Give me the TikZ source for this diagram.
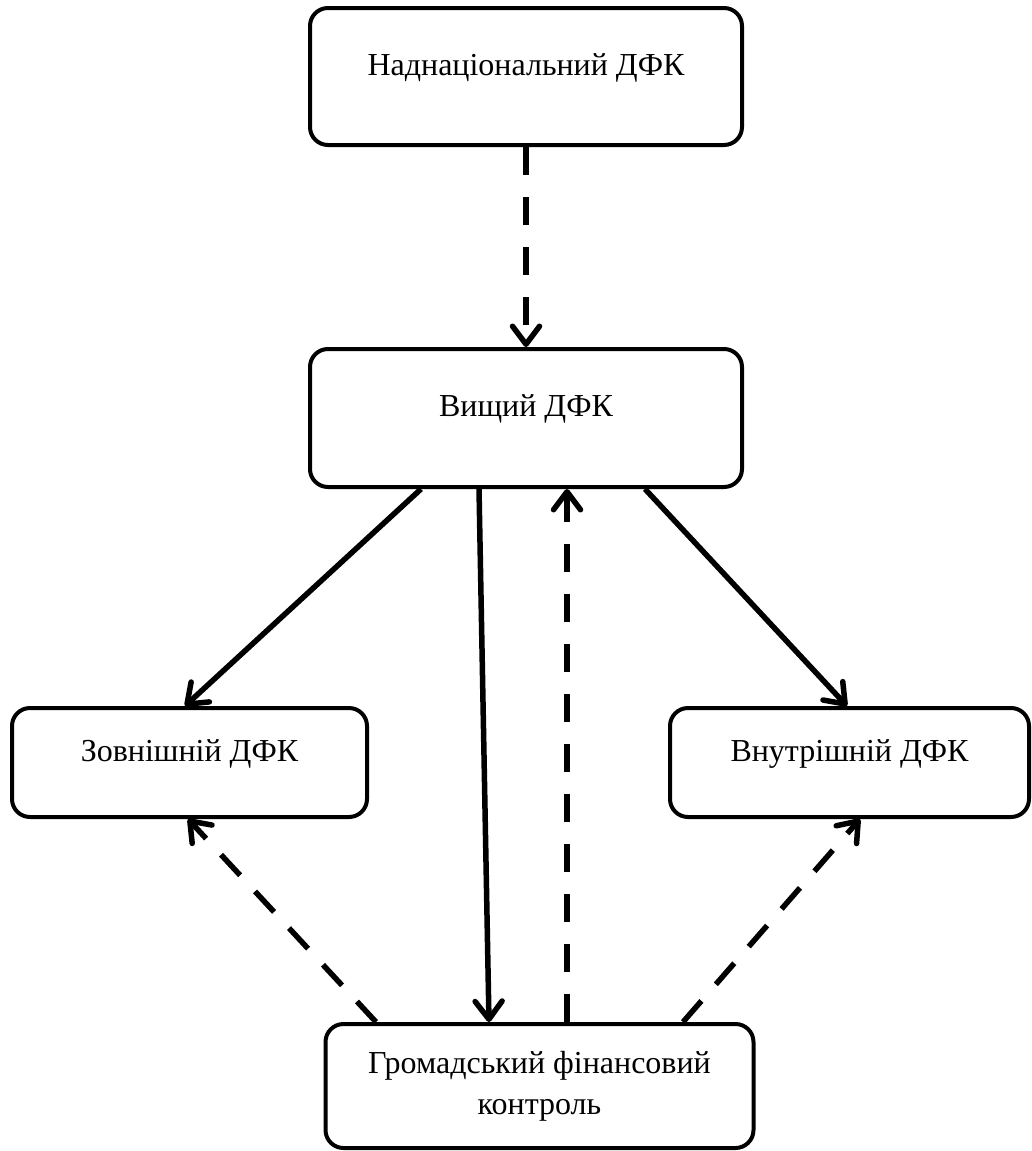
\documentclass[tikz,border=0pt]{standalone}
\usepackage{fontspec}
\setmainfont{Liberation Serif}
\usetikzlibrary{arrows.meta, positioning}

\begin{document}
\begin{tikzpicture}[x=1pt, y=-1pt,
        box/.style={draw, line width=4pt, rounded corners=18pt, align=center,
            font=\fontsize{32}{41}\selectfont},
        oneline/.style={text height=22pt, text depth=25pt},
        link/.style={line width=5.5pt, -{Straight Barb[length=18pt, width=27pt, round]}},
        dlink/.style={link, dash pattern=on 28pt off 22pt}]
        \useasboundingbox (0,0) rectangle (1031,1151);

        % Draw the boxes
        \node[box, oneline, minimum width=432pt, minimum height=137pt] (supra) at (526,76.5) {Наднаціональний ДФК};
        \node[box, oneline, minimum width=432pt, minimum height=138pt, below=200pt of supra] (higher) {Вищий ДФК};

        \node[box, oneline, minimum width=355pt, minimum height=109pt] (ext) at (189.5,762.5) {Зовнішній ДФК};
        \node[box, oneline, minimum width=359pt, minimum height=109pt] (int) at (849.5,762.5) {Внутрішній ДФК};

        \node[box, minimum width=428pt, minimum height=124pt] (public) at (539.5,1086) {Громадський фінансовий\\контроль};

        % Connect the boxes with arrows
        \draw
            (supra.south) edge[dlink] (higher.north)
            ([xshift=-105pt]higher.south) edge[link] ([xshift=-4.5pt]ext.north)
            ([xshift=-47pt]higher.south) edge[link] ([xshift=-50.5pt]public.north)
            ([xshift=119pt]higher.south) edge[link] ([xshift=-2.5pt]int.north)

            ([xshift=27.5pt]public.north) edge[dlink] ([xshift=41pt]higher.south)
            ([xshift=-163.5pt]public.north) edge[dlink] ([xshift=-1.5pt]ext.south)
            ([xshift=143.5pt]public.north) edge[dlink] ([xshift=10.5pt]int.south);
\end{tikzpicture}
\end{document}
